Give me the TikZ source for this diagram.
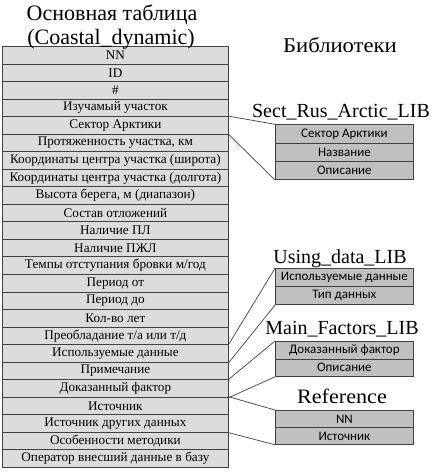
\documentclass[tikz,border=0pt]{standalone}
\usepackage{fontspec}
\setmainfont{Liberation Serif}
\newfontfamily\libfont{Carlito}
\newfontfamily\widefont{Liberation Serif}[FakeStretch=1.08]
\definecolor{mainfill}{HTML}{DCDCDC}
\definecolor{libfill}{HTML}{C0C0C0}
\definecolor{edgec}{HTML}{404040}
\begin{document}
\begin{tikzpicture}[x=1pt,y=-1pt,
  mainrow/.style={draw=edgec, fill=mainfill, line width=0.8pt, minimum width=226pt, minimum height=17.54pt, inner sep=0pt, anchor=north west, font=\fontsize{13.2}{13.2}\selectfont},
  librow/.style={draw=edgec, fill=libfill, line width=0.8pt, minimum width=138pt, inner sep=0pt, anchor=north west, font=\libfont\fontsize{13}{13}\selectfont},
  ttl/.style={inner sep=0pt, anchor=base, font=\fontsize{20}{20}\selectfont},
  link/.style={draw=edgec, line width=0.7pt}]
\useasboundingbox (0,0) rectangle (433,472);
\fill[white] (0,0) rectangle (433,472);
% main table
\foreach \t [count=\i from 0] in {{NN},{ID},{\#},{Изучамый участок},{Сектор Арктики},{Протяженность участка, км},{Координаты центра участка (широта)},{Координаты центра участка (долгота)},{Высота берега, м (диапазон)},{Состав отложений},{Наличие ПЛ},{Наличие ПЖЛ},{Темпы отступания бровки м/год},{Период от},{Период до},{Кол-во лет},{Преобладание т/а или т/д},{Используемые данные},{Примечание},{Доказанный фактор},{Источник},{Источник других данных},{Особенности методики},{Оператор внесший данные в базу}}
  \node[mainrow] (m\i) at (2,{46+17.54*\i}) {\t};
\node[ttl, font=\fontsize{22}{22}\selectfont] (title1) at (112,20) {Основная таблица};
\node[ttl, font=\fontsize{22}{22}\selectfont] (title2) at (111,44) {(Coastal\_dynamic)};
\node[ttl, font=\widefont\fontsize{21}{21}\selectfont] (libs) at (340,52) {Библиотеки};
% Sect_Rus_Arctic_LIB
\node[ttl] (stitle) at (341,117) {Sect\_Rus\_Arctic\_LIB};
\foreach \t [count=\i from 0] in {{Сектор Арктики},{Название},{Описание}}
  \node[librow, minimum height=18.3pt] (s\i) at (275,{124.3+18.3*\i}) {\t};
% Using_data_LIB
\node[ttl] (utitle) at (340,263) {Using\_data\_LIB};
\foreach \t [count=\i from 0] in {{Используемые данные},{Тип данных}}
  \node[librow, minimum height=18pt] (u\i) at (275,{268.3+18*\i}) {\t};
% Main_Factors_LIB
\node[ttl] (ftitle) at (342,334) {Main\_Factors\_LIB};
\foreach \t [count=\i from 0] in {{Доказанный фактор},{Описание}}
  \node[librow, minimum height=17.5pt] (f\i) at (275,{341+17.5*\i}) {\t};
% Reference
\node[ttl, font=\widefont\fontsize{20.5}{20.5}\selectfont] (rtitle) at (342,403) {Reference};
\foreach \t [count=\i from 0] in {{NN},{Источник}}
  \node[librow, minimum height=17pt] (r\i) at (275,{410+17*\i}) {\t};
% connectors
\draw[link] (m4.north east) -- (s0.north west);
\draw[link] (m4.south east) -- (s2.south west);
\draw[link] (m17.north east) -- (u0.north west);
\draw[link] (m17.south east) -- (u1.south west);
\draw[link] (m19.north east) -- (f0.north west);
\draw[link] (m19.south east) -- (f1.south west);
\draw[link] (m20.north east) -- (r0.north west);
\draw[link] (m21.south east) -- (r1.south west);
\end{tikzpicture}
\end{document}
